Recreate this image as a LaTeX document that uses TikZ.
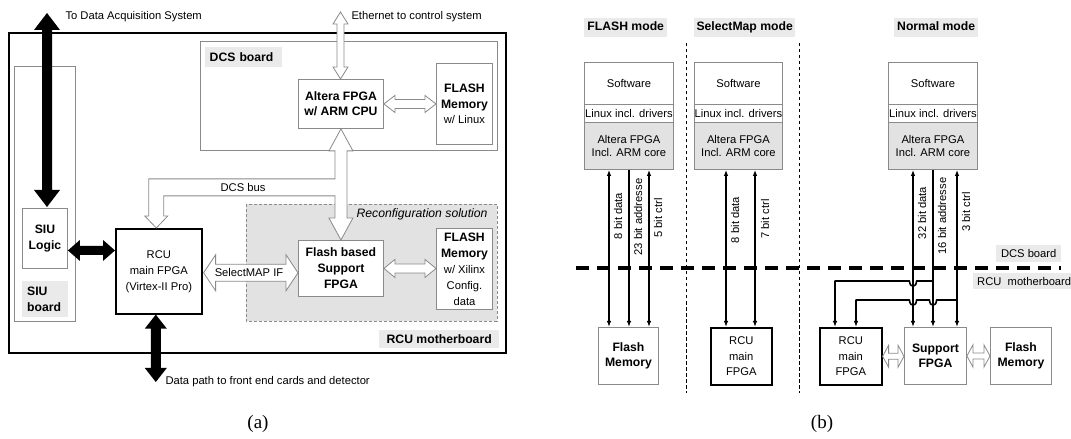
\documentclass[tikz,border=0pt]{standalone}
\usepackage{fontspec}
\setmainfont{Liberation Sans}
\newfontfamily\capfont{Liberation Serif}
\usetikzlibrary{calc,arrows.meta}
\definecolor{bd}{HTML}{8A8A8A}
\definecolor{regfill}{HTML}{E2E2E2}
\definecolor{lblfill}{HTML}{EAEAEA}
\newcommand\fN{\fontsize{11.2bp}{15.5bp}\selectfont}
\newcommand\fB{\fontsize{12.2bp}{15.5bp}\selectfont\bfseries}
% horizontal block double arrow: style, left point, right point, shaft half, head half, head length
\newcommand\HArrow[6]{\path[#1] let \p1=(#2), \p2=(#3) in
 (\x1,\y1) -- (\x1+#6bp,\y1+#5bp) -- (\x1+#6bp,\y1+#4bp) -- (\x2-#6bp,\y1+#4bp) -- (\x2-#6bp,\y1+#5bp)
 -- (\x2,\y1) -- (\x2-#6bp,\y1-#5bp) -- (\x2-#6bp,\y1-#4bp) -- (\x1+#6bp,\y1-#4bp) -- (\x1+#6bp,\y1-#5bp) -- cycle;}
% vertical block double arrow: style, top point, bottom point, shaft half, head half, head length
\newcommand\VArrow[6]{\path[#1] let \p1=(#2), \p2=(#3) in
 (\x1,\y1) -- (\x1+#5bp,\y1-#6bp) -- (\x1+#4bp,\y1-#6bp) -- (\x1+#4bp,\y2+#6bp) -- (\x1+#5bp,\y2+#6bp)
 -- (\x1,\y2) -- (\x1-#5bp,\y2+#6bp) -- (\x1-#4bp,\y2+#6bp) -- (\x1-#4bp,\y1-#6bp) -- (\x1-#5bp,\y1-#6bp) -- cycle;}
\tikzset{
 box/.style={draw=bd, line width=0.9bp, fill=white, inner sep=0pt, align=center, anchor=north west},
 bbox/.style={box, draw=black, line width=1.6bp},
 lbl/.style={fill=lblfill, inner sep=0pt, anchor=north west},
 modelbl/.style={lbl, minimum height=19bp, text height=9bp, text depth=2.5bp, font=\fB},
 hollow/.style={draw=bd, fill=white, line width=0.8bp, line join=miter},
 solidarr/.style={fill=black},
 sig/.style={line width=1.6bp},
 divider/.style={line width=0.9bp, dash pattern=on 3.5bp off 2.5bp},
 tp/.tip={Latex[length=6bp,width=4.5bp]}
}
\begin{document}
\begin{tikzpicture}[x=1bp,y=-1bp]
\useasboundingbox (0,0) rectangle (1071,439);
% ---------------- (a) ----------------
\draw[line width=2bp] (9,33) rectangle (506,353);
\draw[draw=bd, line width=1bp] (200,42) rectangle (497,151);
\draw[draw=bd, fill=regfill, line width=0.8bp, dash pattern=on 3bp off 2bp] (246,204) rectangle (497,321);
\draw[draw=bd, line width=0.8bp] (14,66) rectangle (75,321);

\node[lbl, inner xsep=4.5bp, minimum height=20bp, text width=68bp, font=\fB, align=left] (dcslbl) at (205,47) {DCS board};
\node[lbl, inner xsep=5bp, minimum height=36bp, text width=36bp, font=\fontsize{12.2bp}{16bp}\selectfont\bfseries, align=left] (siulbl) at (22,281) {SIU\\board};
\node[lbl, minimum width=120bp, minimum height=18bp, font=\fB] (rcumblbl) at (379,330) {RCU motherboard};

\node[box, minimum width=45bp, minimum height=60bp, font=\fB] (siulogic) at (22,208) {SIU\\Logic};
\node[bbox, minimum width=86bp, minimum height=85bp, font=\fontsize{11.2bp}{16bp}\selectfont] (rcu) at (115,228) {RCU\\main FPGA\\(Virtex-II Pro)};
\node[box, minimum width=85bp, minimum height=49bp, font=\fB] (altera) at (298,79) {Altera FPGA\\w/ ARM CPU};
\node[box, minimum width=56bp, minimum height=81bp, font=\fB] (flashlx) at (436,63) {FLASH\\Memory\\\fN\mdseries w/ Linux};
\node[box, minimum width=85bp, minimum height=56bp, font=\fontsize{12.2bp}{16bp}\selectfont\bfseries] (support) at (298,240) {Flash based\\Support\\FPGA};
\node[box, minimum width=56bp, minimum height=81bp, font=\fontsize{12.2bp}{16bp}\selectfont\bfseries] (flashxil) at (436,228)
 {FLASH\\Memory\\\fontsize{11.2bp}{16bp}\selectfont\mdseries w/ Xilinx\\\fontsize{11.2bp}{16bp}\selectfont\mdseries Config.\\\fontsize{11.2bp}{16bp}\selectfont\mdseries data};

% block arrows
\coordinate (daqtop) at (47,13);
\coordinate (daqbot) at (47,207);
\VArrow{solidarr}{daqtop}{daqbot}{5}{13}{17}
\HArrow{solidarr}{$(siulogic.east)+(0,12)$}{rcu.west}{4.5}{10.5}{12}
\coordinate (dpbot) at (155,382);
\VArrow{solidarr}{$(rcu.south)+(-3,0)$}{dpbot}{5}{11}{14}

\coordinate (eth) at (340.5,12);
\VArrow{hollow}{eth}{altera.north}{3.5}{7.5}{12}
\HArrow{hollow}{altera.east}{flashlx.west}{4.5}{8.5}{11}
\HArrow{hollow}{support.east}{flashxil.west}{4.5}{9}{11}
\HArrow{hollow}{$(rcu.east)+(1,1.5)$}{support.west}{8.5}{18}{12}
% DCS bus (T-shaped block arrow)
\path[hollow] let \p1=(altera.south), \p2=(support.north), \p3=(rcu.north) in
 (\x1,\y1) -- (\x1+12bp,\y1-22bp) -- (\x1+6bp,\y1-22bp) -- (\x1+6bp,\y2+22bp) -- (\x1+12bp,\y2+22bp)
 -- (\x1,\y2) -- (\x1-12bp,\y2+22bp) -- (\x1-6bp,\y2+22bp) -- (\x1-6bp,\y1-67bp)
 -- (\x3+5bp,\y1-67bp) -- (\x3+5bp,\y3+12bp) -- (\x3+9bp,\y3+12bp) -- (\x3-2.5bp,\y3)
 -- (\x3-14bp,\y3+12bp) -- (\x3-10bp,\y3+12bp) -- (\x3-10bp,\y1-50bp) -- (\x1-6bp,\y1-50bp)
 -- (\x1-6bp,\y1-22bp) -- (\x1-12bp,\y1-22bp) -- cycle;

\node[anchor=west, font=\fN] (daqtxt) at (62,17) {To Data Acquisition System};
\node[anchor=west, font=\fN] (ethtxt) at (348,17) {Ethernet to control system};
\node[anchor=west, font=\fN] (dptxt) at (162,382) {Data path to front end cards and detector};
\node[font=\fN] (bustxt) at (243,188) {DCS bus};
\node[font=\fN] (smtxt) at (249,272) {SelectMAP IF};
\node[anchor=east, font=\fontsize{12.2bp}{15bp}\selectfont\itshape] (rstxt) at (491,214) {Reconfiguration solution};

\node[font=\capfont\fontsize{19bp}{22bp}\selectfont] (capa) at (258,424) {(a)};

% ---------------- (b) ----------------
\node[modelbl, minimum width=83bp] (m1) at (584,18) {FLASH mode};
\node[modelbl, minimum width=101bp] (m2) at (694,18) {SelectMap mode};
\node[modelbl, minimum width=84bp] (m3) at (894,18) {Normal mode};

\draw[divider] (686,43) -- (686,393);
\draw[divider] (799,43) -- (799,393);

% stacks
\foreach \nm/\xx/\ww in {F/584/89, S/694/88, N/888/89}{
 \node[box, minimum width=\ww bp, minimum height=42bp, font=\fN] (sw\nm) at (\xx,62) {Software};
 \node[box, minimum width=\ww bp, minimum height=18bp, font=\fN] (lx\nm) at (\xx,104) {Linux incl. drivers};
 \node[box, fill=regfill, minimum width=\ww bp, minimum height=47bp, font=\fontsize{11.2bp}{13.5bp}\selectfont] (al\nm) at (\xx,122) {Altera FPGA\\Incl. ARM core};
}

\draw[line width=3.5bp, dash pattern=on 13bp off 8bp] (576,268) -- (1061,268);
\node[lbl, minimum width=65bp, minimum height=17bp, font=\fN] (dcsb) at (996,245) {DCS board};
\node[lbl, inner xsep=4bp, minimum height=16bp, font=\fN] (rcub) at (973,273) {RCU\ \ motherboard};

% bottom boxes
\node[box, minimum width=60bp, minimum height=57bp, font=\fB] (fmF) at (598,327) {Flash\\Memory};
\node[bbox, minimum width=61bp, minimum height=57bp, font=\fN] (rcuS) at (710,327) {RCU\\main\\FPGA};
\node[bbox, minimum width=62bp, minimum height=57bp, font=\fN] (rcuN) at (819,327) {RCU\\main\\FPGA};
\node[box, minimum width=62bp, minimum height=57bp, font=\fB] (supN) at (904,327) {Support\\FPGA};
\node[box, minimum width=61bp, minimum height=57bp, font=\fB] (fmN) at (990,327) {Flash\\Memory};

% FLASH mode signals
\draw[sig, tp-tp] (609,0 |- alF.south) -- (609,0 |- fmF.north);
\draw[sig, -tp] (629,0 |- alF.south) -- (629,0 |- fmF.north);
\draw[sig, tp-tp] (649,0 |- alF.south) -- (649,0 |- fmF.north);
\node[font=\fN, rotate=90] (l1) at (618,216) {8 bit data};
\node[font=\fN, rotate=90] (l2) at (638,217) {23 bit addresse};
\node[font=\fN, rotate=90] (l3) at (658,218) {5 bit ctrl};
% SelectMap mode signals
\draw[sig, tp-tp] (726,0 |- alS.south) -- (726,0 |- rcuS.north);
\draw[sig, tp-tp] (755,0 |- alS.south) -- (755,0 |- rcuS.north);
\node[font=\fN, rotate=90] (l4) at (735,220) {8 bit data};
\node[font=\fN, rotate=90] (l5) at (765,219) {7 bit ctrl};
% Normal mode signals
\draw[sig, tp-tp] (913,0 |- alN.south) -- (913,0 |- supN.north);
\draw[sig, -tp] (933,0 |- alN.south) -- (933,0 |- supN.north);
\draw[sig, tp-tp] (957,0 |- alN.south) -- (957,0 |- supN.north);
\node[font=\fN, rotate=90] (l6) at (922,213) {32 bit data};
\node[font=\fN, rotate=90] (l7) at (942,216) {16 bit addresse};
\node[font=\fN, rotate=90] (l8) at (966,212) {3 bit ctrl};
\coordinate (ja) at (933,281);
\coordinate (jb) at (957,300);
\draw[sig, -tp, line join=round] (ja) -- (916.5,281) .. controls (916.5,288) and (909.5,288) .. (909.5,281)
  -- (835,281) -- (835,0 |- rcuN.north);
\draw[sig, -tp, line join=round] (jb) -- (936.5,300) .. controls (936.5,307) and (929.5,307) .. (929.5,300)
  -- (916.5,300) .. controls (916.5,307) and (909.5,307) .. (909.5,300)
  -- (856,300) -- (856,0 |- rcuN.north);

\HArrow{hollow}{rcuN.east}{supN.west}{3}{11}{6}
\HArrow{hollow}{supN.east}{fmN.west}{3}{11}{6}

\node[font=\capfont\fontsize{19bp}{22bp}\selectfont] (capb) at (822,424) {(b)};
\end{tikzpicture}
\end{document}
